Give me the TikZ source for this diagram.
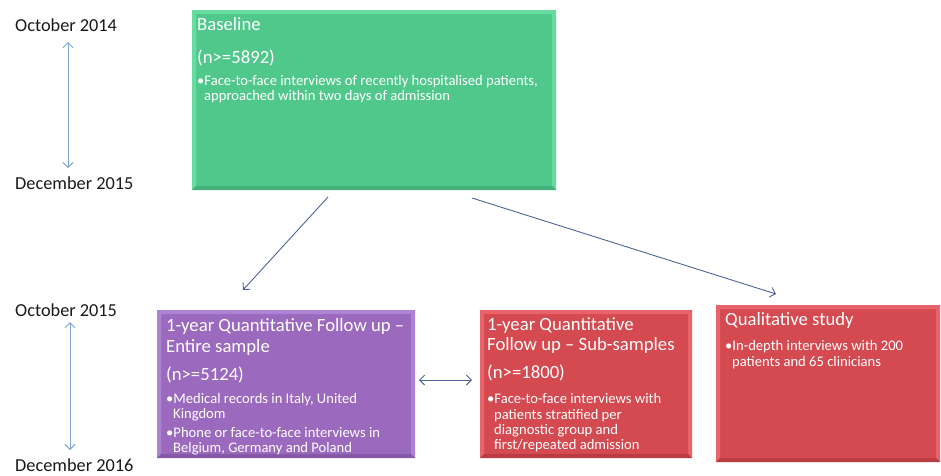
\documentclass[tikz,border=0pt]{standalone}
\usepackage{fontspec}
\setmainfont{Carlito}
\usetikzlibrary{arrows.meta}
\definecolor{grn}{HTML}{50C88C}
\definecolor{grnlt}{HTML}{68DBA0}
\definecolor{grndk}{HTML}{44B07A}
\definecolor{pur}{HTML}{9B69BE}
\definecolor{purlt}{HTML}{AE82D4}
\definecolor{purdk}{HTML}{8659A8}
\definecolor{rd}{HTML}{D54A50}
\definecolor{rdlt}{HTML}{E8636A}
\definecolor{rddk}{HTML}{BA3C42}
\definecolor{arrdark}{HTML}{4F6498}
\definecolor{arrlight}{HTML}{7FA6D6}
\definecolor{datec}{HTML}{1A1A1A}
\tikzset{
  boxnode/.style={fill=#1, draw=none, inner sep=0pt, outer sep=0pt, anchor=north west},
  ttl/.style={anchor=base west, inner sep=0pt, text=white, font=\fontsize{18.7}{20}\selectfont},
  sml/.style={anchor=base west, inner sep=0pt, text=white, font=\fontsize{14.6}{15}\selectfont},
  datelbl/.style={anchor=base west, inner sep=0pt, text=datec, font=\fontsize{18.3}{20}\selectfont},
  flowarrow/.style={draw=arrdark, line width=0.9pt, -{Straight Barb[length=5pt,width=10pt]}},
  timearrow/.style={draw=arrlight, line width=0.9pt, {Straight Barb[length=5pt,width=10pt]}-{Straight Barb[length=5pt,width=10pt]}}
}
\newcommand\bevelbox[4]{%
  \fill[#2] (#1.north west) -- (#1.north east) -- ([shift={(-#4,#4)}]#1.north east) -- ([shift={(#4,#4)}]#1.north west) -- cycle;
  \fill[#2] (#1.north west) -- ([shift={(#4,#4)}]#1.north west) -- ([shift={(#4,-#4)}]#1.south west) -- (#1.south west) -- cycle;
  \fill[#2] (#1.north east) -- ([shift={(-#4,#4)}]#1.north east) -- ([shift={(-#4,-#4)}]#1.south east) -- (#1.south east) -- cycle;
  \fill[#3] (#1.south west) -- ([shift={(#4,-#4)}]#1.south west) -- ([shift={(-#4,-#4)}]#1.south east) -- (#1.south east) -- cycle;
}
\begin{document}
\begin{tikzpicture}[x=1pt,y=-1pt]
\useasboundingbox (0,0) rectangle (941,475);
\fill[white] (0,0) rectangle (941,475);

% boxes
\node[boxnode=grn, minimum width=364pt, minimum height=180pt] (basebox) at (192,10) {};
\node[boxnode=pur, minimum width=258pt, minimum height=148pt] (purbox) at (157,310) {};
\node[boxnode=rd, minimum width=212pt, minimum height=148pt] (subbox) at (480,310) {};
\node[boxnode=rd, minimum width=224pt, minimum height=157pt] (qualbox) at (716,305) {};
\bevelbox{basebox}{grnlt}{grndk}{4}
\bevelbox{purbox}{purlt}{purdk}{4}
\bevelbox{subbox}{rdlt}{rddk}{4}
\bevelbox{qualbox}{rdlt}{rddk}{4}

% baseline text
\node[ttl] (bt1) at (197,30) {Baseline};
\node[ttl] (bn1) at (197,63) {(n>=5892)};
\node[sml] (bb1) at (197,85) {\textbullet Face-to-face interviews of recently hospitalised patients,};
\node[sml] (bb2) at (204,100) {approached within two days of admission};

% purple text
\node[ttl] (pt1) at (166,331) {1-year Quantitative Follow up –};
\node[ttl] (pt2) at (166,352) {Entire sample};
\node[ttl] (pn1) at (166,380) {(n>=5124)};
\node[sml] (pb1) at (166,403) {\textbullet Medical records in Italy, United};
\node[sml] (pb2) at (173,418) {Kingdom};
\node[sml] (pb3) at (166,437) {\textbullet Phone or face-to-face interviews in};
\node[sml] (pb4) at (173,452) {Belgium, Germany and Poland};

% sub-sample text
\node[ttl] (st1) at (487,330) {1-year Quantitative};
\node[ttl] (st2) at (487,350) {Follow up – Sub-samples};
\node[ttl] (sn1) at (487,378) {(n>=1800)};
\node[sml] (sb1) at (487,403) {\textbullet Face-to-face interviews with};
\node[sml] (sb2) at (494,419) {patients stratified per};
\node[sml] (sb3) at (494,434) {diagnostic group and};
\node[sml] (sb4) at (494,449) {first/repeated admission};

% qualitative text
\node[ttl] (qt1) at (725,325) {Qualitative study};
\node[sml] (qb1) at (725,350) {\textbullet In-depth interviews with 200};
\node[sml] (qb2) at (732,366) {patients and 65 clinicians};

% dates
\node[datelbl] (d1) at (15,31) {October 2014};
\node[datelbl] (d2) at (15,189) {December 2015};
\node[datelbl] (d3) at (15,316) {October 2015};
\node[datelbl] (d4) at (15,471) {December 2016};

% arrow end points
\coordinate (ta1) at (68,42);
\coordinate (tb1) at (68,168);
\coordinate (ta2) at (70,322);
\coordinate (tb2) at (70,450);
\coordinate (a1s) at (328,197);
\coordinate (a1e) at (243,290);
\coordinate (a2s) at (472,198);
\coordinate (a2e) at (776,294);
\coordinate (dl) at (419,380);
\coordinate (dr) at (472,380);

\draw[timearrow] (ta1) -- (tb1);
\draw[timearrow] (ta2) -- (tb2);
\draw[flowarrow] (a1s) -- (a1e);
\draw[flowarrow] (a2s) -- (a2e);
\draw[flowarrow, {Straight Barb[length=5pt,width=10pt]}-{Straight Barb[length=5pt,width=10pt]}] (dl) -- (dr);
\end{tikzpicture}
\end{document}
